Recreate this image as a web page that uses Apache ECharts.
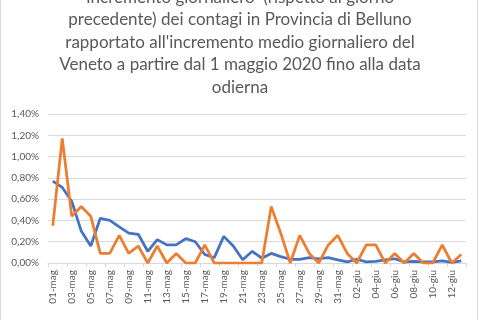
<!DOCTYPE html>
<html>
<head>
<meta charset="utf-8">
<script src="https://cdn.jsdelivr.net/npm/echarts@6/dist/echarts.min.js"></script>
<style>html,body{margin:0;padding:0;background:#fff;}#c{width:480px;height:320px;}</style>
</head>
<body>
<div id="c"></div>
<script>
const titleText = "Incremento giornaliero  (rispetto al giorno\nprecedente) dei contagi in Provincia di Belluno\nrapportato all'incremento medio giornaliero del\nVeneto a partire dal 1 maggio 2020 fino alla data\nodierna";

const categories = [];
for (let d = 1; d <= 31; d++) categories.push((d < 10 ? '0' : '') + d + '-mag');
for (let d = 1; d <= 13; d++) categories.push((d < 10 ? '0' : '') + d + '-giu');

const bellunoValues = [0.77, 0.71, 0.58, 0.30, 0.16, 0.42, 0.40, 0.34, 0.28, 0.27,
  0.11, 0.22, 0.17, 0.17, 0.23, 0.20, 0.08, 0.05, 0.25, 0.16,
  0.03, 0.11, 0.045, 0.09, 0.06, 0.035, 0.035, 0.05, 0.04, 0.05,
  0.03, 0.01, 0.035, 0.01, 0.015, 0.03, 0.04, 0.01, 0.015, 0.01,
  0.01, 0.02, 0.005, 0.02];

const venetoValues = [0.35, 1.17, 0.44, 0.53, 0.44, 0.09, 0.09, 0.26, 0.09, 0.16,
  0.00, 0.16, 0.00, 0.09, 0.00, 0.00, 0.17, 0.00, 0.00, 0.00,
  0.00, 0.00, 0.00, 0.53, 0.28, 0.00, 0.26, 0.09, 0.00, 0.17,
  0.26, 0.09, 0.00, 0.17, 0.17, 0.00, 0.09, 0.00, 0.09, 0.00,
  0.00, 0.17, 0.00, 0.08];

const yMin = 0, yMax = 1.4, yStep = 0.2;

const chart = echarts.init(document.getElementById('c'), null, {renderer: 'canvas'});
const fmt = v => v.toFixed(2).replace('.', ',') + '%';
chart.setOption({
  animation: false,
  backgroundColor: '#fff',
  title: {
    text: titleText,
    left: 'center',
    top: -14,
    padding: 0,
    textStyle: {fontFamily: 'Lato', fontSize: 17, fontWeight: 'normal', color: '#595959', lineHeight: 22.5}
  },
  graphic: [{
    type: 'rect', shape: {x: 0.5, y: -10, width: 477, height: 340},
    style: {fill: null, stroke: '#d9d9d9', lineWidth: 1}, silent: true, z: -1
  }],
  grid: {left: 48, right: 14, top: 114, bottom: 57},
  xAxis: {
    type: 'category',
    data: categories,
    boundaryGap: true,
    axisLine: {lineStyle: {color: '#d9d9d9'}},
    axisTick: {show: true, interval: 1, length: 4, lineStyle: {color: '#d9d9d9'}},
    axisLabel: {interval: 1, rotate: 90, color: '#595959', fontFamily: 'Lato', fontSize: 10, margin: 7}
  },
  yAxis: {
    type: 'value',
    min: yMin, max: yMax, interval: yStep,
    axisLine: {show: false},
    axisTick: {show: false},
    splitLine: {lineStyle: {color: '#d9d9d9', width: 1}},
    axisLabel: {formatter: fmt, color: '#595959', fontFamily: 'Lato', fontSize: 10, margin: 9}
  },
  series: [
    {name: 'Belluno', type: 'line', data: bellunoValues, symbol: 'none',
     lineStyle: {color: '#4472C4', width: 2.75}, itemStyle: {color: '#4472C4'}, z: 2},
    {name: 'Veneto', type: 'line', data: venetoValues, symbol: 'none',
     lineStyle: {color: '#ED7D31', width: 2.75}, itemStyle: {color: '#ED7D31'}, z: 3}
  ]
});
</script>
</body>
</html>
